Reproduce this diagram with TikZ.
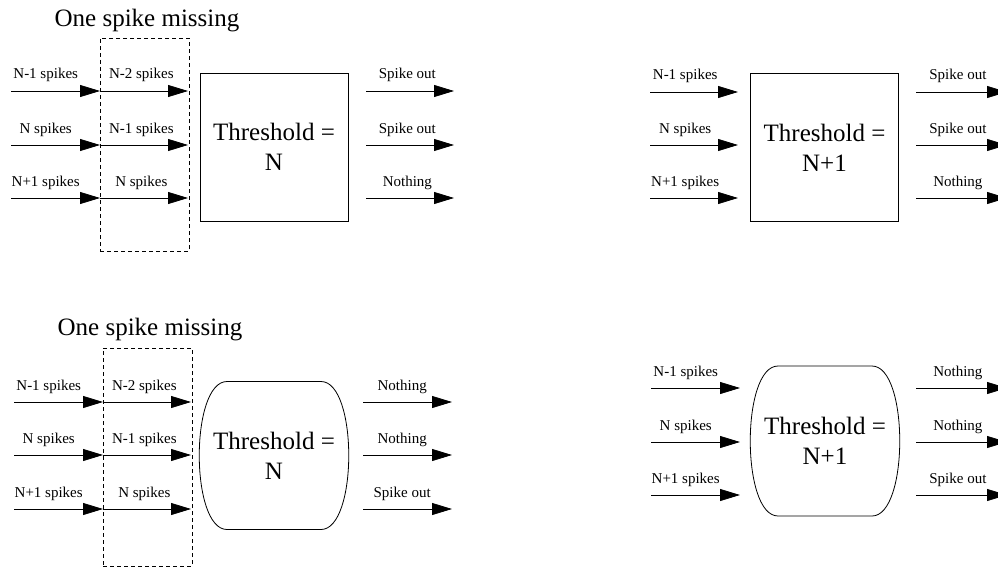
\documentclass[tikz,border=0pt]{standalone}
\usepackage{fontspec}
\setmainfont{Liberation Serif}
\usetikzlibrary{arrows.meta, positioning}

\tikzset{
  sig/.style={-{Triangle[length=20pt,width=12pt]}, line width=0.8pt},
  lbl/.style={font=\fontsize{15}{15}\selectfont, anchor=base, yshift=12pt, inner sep=0pt},
  thr/.style={minimum width=148pt, minimum height=148pt, align=center, outer sep=0pt,
    font=\fontsize{25}{30}\selectfont},
  miss/.style={draw, dash pattern=on 4pt off 3pt, line width=0.7pt, inner sep=0pt, outer sep=0pt},
  ttl/.style={font=\fontsize{25}{25}\selectfont, anchor=base},
}

\begin{document}
\begin{tikzpicture}[x=1pt, y=-1pt]
    \clip (0,0) rectangle (998,567);

    % top left
    \node[ttl] (title1) at (147,27) {One spike missing};
    \node[miss, minimum width=89pt, minimum height=213pt] (gap1) at (144.5,144.5) {};
    \node[thr, draw, line width=0.8pt] (th1) at (274,147) {Threshold =\\N};
    \coordinate (a11) at (11,91);
    \coordinate (b11) at (100,91);
    \coordinate (c11) at (188,91);
    \coordinate (a12) at (11,145);
    \coordinate (b12) at (100,145);
    \coordinate (c12) at (188,145);
    \coordinate (a13) at (11,198);
    \coordinate (b13) at (100,198);
    \coordinate (c13) at (188,198);
    \coordinate (o11) at (366,91);
    \coordinate (e11) at (454,91);
    \coordinate (o12) at (366,145);
    \coordinate (e12) at (454,145);
    \coordinate (o13) at (366,198);
    \coordinate (e13) at (454,198);
    \draw[sig] (a11) to node[lbl, pos=.39] {N-1 spikes} (b11);
    \draw[sig] (a12) to node[lbl, pos=.39] {N spikes} (b12);
    \draw[sig] (a13) to node[lbl, pos=.39] {N+1 spikes} (b13);
    \draw[sig] (b11) to node[lbl, pos=.47] {N-2 spikes} (c11);
    \draw[sig] (b12) to node[lbl, pos=.47] {N-1 spikes} (c12);
    \draw[sig] (b13) to node[lbl, pos=.47] {N spikes} (c13);
    \draw[sig] (o11) to node[lbl, pos=.47] {Spike out} (e11);
    \draw[sig] (o12) to node[lbl, pos=.47] {Spike out} (e12);
    \draw[sig] (o13) to node[lbl, pos=.47] {Nothing} (e13);

    % top right
    \node[thr, draw, line width=0.8pt] (th2) at (824.5,147.5) {Threshold =\\N+1};
    \coordinate (a21) at (650,92);
    \coordinate (b21) at (738,92);
    \coordinate (a22) at (650,145);
    \coordinate (b22) at (738,145);
    \coordinate (a23) at (650,198);
    \coordinate (b23) at (738,198);
    \coordinate (o21) at (916,92);
    \coordinate (e21) at (1007,92);
    \coordinate (o22) at (916,145);
    \coordinate (e22) at (1007,145);
    \coordinate (o23) at (916,198);
    \coordinate (e23) at (1007,198);
    \draw[sig] (a21) to node[lbl, pos=.4] {N-1 spikes} (b21);
    \draw[sig] (a22) to node[lbl, pos=.4] {N spikes} (b22);
    \draw[sig] (a23) to node[lbl, pos=.4] {N+1 spikes} (b23);
    \draw[sig] (o21) to node[lbl, pos=.46] {Spike out} (e21);
    \draw[sig] (o22) to node[lbl, pos=.46] {Spike out} (e22);
    \draw[sig] (o23) to node[lbl, pos=.46] {Nothing} (e23);

    % bottom left
    \node[ttl] (title3) at (150,335) {One spike missing};
    \node[miss, minimum width=89pt, minimum height=218pt] (gap3) at (147.5,457) {};
    \node[thr] (th3) at (274,455.5) {Threshold =\\N};
    \draw[line width=0.8pt] ([xshift=-47pt]th3.north) -- ([xshift=47pt]th3.north)
        .. controls +(37,0) and +(37,0) .. ([xshift=47pt]th3.south)
        -- ([xshift=-47pt]th3.south)
        .. controls +(-37,0) and +(-37,0) .. cycle;
    \coordinate (a31) at (14,402);
    \coordinate (b31) at (103,402);
    \coordinate (c31) at (191,402);
    \coordinate (a32) at (14,455);
    \coordinate (b32) at (103,455);
    \coordinate (c32) at (191,455);
    \coordinate (a33) at (14,509);
    \coordinate (b33) at (103,509);
    \coordinate (c33) at (191,509);
    \coordinate (o31) at (363,402);
    \coordinate (e31) at (452,402);
    \coordinate (o32) at (363,455);
    \coordinate (e32) at (452,455);
    \coordinate (o33) at (363,509);
    \coordinate (e33) at (452,509);
    \draw[sig] (a31) to node[lbl, pos=.39] {N-1 spikes} (b31);
    \draw[sig] (a32) to node[lbl, pos=.39] {N spikes} (b32);
    \draw[sig] (a33) to node[lbl, pos=.39] {N+1 spikes} (b33);
    \draw[sig] (b31) to node[lbl, pos=.47] {N-2 spikes} (c31);
    \draw[sig] (b32) to node[lbl, pos=.47] {N-1 spikes} (c32);
    \draw[sig] (b33) to node[lbl, pos=.47] {N spikes} (c33);
    \draw[sig] (o31) to node[lbl, pos=.44] {Nothing} (e31);
    \draw[sig] (o32) to node[lbl, pos=.44] {Nothing} (e32);
    \draw[sig] (o33) to node[lbl, pos=.44] {Spike out} (e33);

    % bottom right
    \node[thr, minimum height=150pt] (th4) at (825,441) {Threshold =\\N+1};
    \draw[line width=0.8pt] ([xshift=-47pt]th4.north) -- ([xshift=47pt]th4.north)
        .. controls +(37,0) and +(37,0) .. ([xshift=47pt]th4.south)
        -- ([xshift=-47pt]th4.south)
        .. controls +(-37,0) and +(-37,0) .. cycle;
    \coordinate (a41) at (651,388);
    \coordinate (b41) at (740,388);
    \coordinate (a42) at (651,442);
    \coordinate (b42) at (740,442);
    \coordinate (a43) at (651,495);
    \coordinate (b43) at (740,495);
    \coordinate (o41) at (916,388);
    \coordinate (e41) at (1007,388);
    \coordinate (o42) at (916,442);
    \coordinate (e42) at (1007,442);
    \coordinate (o43) at (916,495);
    \coordinate (e43) at (1007,495);
    \draw[sig] (a41) to node[lbl, pos=.39] {N-1 spikes} (b41);
    \draw[sig] (a42) to node[lbl, pos=.39] {N spikes} (b42);
    \draw[sig] (a43) to node[lbl, pos=.39] {N+1 spikes} (b43);
    \draw[sig] (o41) to node[lbl, pos=.46] {Nothing} (e41);
    \draw[sig] (o42) to node[lbl, pos=.46] {Nothing} (e42);
    \draw[sig] (o43) to node[lbl, pos=.46] {Spike out} (e43);
\end{tikzpicture}
\end{document}
